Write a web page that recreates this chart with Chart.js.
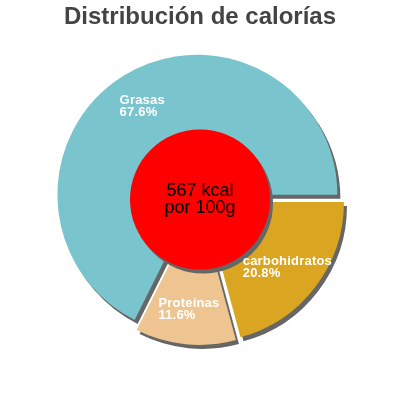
<!DOCTYPE html>
<html lang="es">
<head>
    <meta charset="UTF-8">
    <title>Distribución de calorías</title>
    <style>
        body {
            margin: 0;
            background-color: #fff;
        }
        .chart-box {
            width: 400px;
            height: 400px;
        }
    </style>
    <script src="https://cdn.jsdelivr.net/npm/chart.js"></script>
</head>
<body>
    <div class="chart-box">
        <canvas id="pieChart"></canvas>
    </div>

    <script>
        // Data (clockwise from 3 o'clock)
        const labels = ['carbohidratos', 'Proteínas', 'Grasas'];
        const percentages = [20.8, 11.6, 67.6];
        const sliceColors = ['#DAA520', '#EEC591', '#7AC5CD'];
        const energyLines = ['567 kcal', 'por 100g'];

        const FONT = '"Liberation Sans", Arial, sans-serif';
        const explode = [5, 6, 5]; // how far each slice is pulled out

        function setShadow(ctx) {
            ctx.shadowColor = '#666';
            ctx.shadowBlur = 0;
            ctx.shadowOffsetX = 3;
            ctx.shadowOffsetY = 4;
        }

        // Exploded slices with a hard shadow, red centre disc and labels
        const pieDecor = {
            id: 'pieDecor',
            beforeDatasetDraw(chart, args) {
                const ctx = chart.ctx;
                args.meta.data.forEach((arc, i) => {
                    const mid = (arc.startAngle + arc.endAngle) / 2;
                    ctx.save();
                    setShadow(ctx);
                    ctx.translate(Math.cos(mid) * explode[i], Math.sin(mid) * explode[i]);
                    arc.draw(ctx);
                    ctx.restore();
                });
                return false;
            },
            afterDatasetsDraw(chart) {
                const ctx = chart.ctx;
                const arcs = chart.getDatasetMeta(0).data;
                const cx = arcs[0].x;
                const cy = arcs[0].y;

                // red disc
                ctx.save();
                setShadow(ctx);
                ctx.fillStyle = '#FF0000';
                ctx.beginPath();
                ctx.arc(cx, cy + 0.5, 70, 0, Math.PI * 2);
                ctx.fill();
                ctx.restore();

                // energy text
                ctx.save();
                ctx.fillStyle = '#000';
                ctx.font = '18px ' + FONT;
                ctx.textAlign = 'center';
                ctx.textBaseline = 'alphabetic';
                ctx.fillText(energyLines[0], cx, cy - 3);
                ctx.fillText(energyLines[1], cx, cy + 14);
                ctx.restore();

                // slice labels
                ctx.save();
                ctx.fillStyle = '#fff';
                ctx.font = 'bold 13px ' + FONT;
                ctx.letterSpacing = '0.2px';
                ctx.textAlign = 'left';
                ctx.textBaseline = 'alphabetic';
                arcs.forEach((arc, i) => {
                    const mid = (arc.startAngle + arc.endAngle) / 2;
                    const lx = cx + Math.cos(mid) * 110;
                    const ly = cy + Math.sin(mid) * 110;
                    const pct = percentages[i].toFixed(1) + '%';
                    const w = Math.max(ctx.measureText(labels[i]).width, ctx.measureText(pct).width);
                    ctx.fillText(labels[i], lx - w / 2, ly - 1);
                    ctx.fillText(pct, lx - w / 2, ly + 11);
                });
                ctx.restore();
            }
        };

        const pieCtx = document.getElementById('pieChart').getContext('2d');
        new Chart(pieCtx, {
            type: 'pie',
            data: {
                labels: labels,
                datasets: [{
                    data: percentages,
                    backgroundColor: sliceColors,
                    borderWidth: 0,
                    radius: 140
                }]
            },
            options: {
                responsive: true,
                maintainAspectRatio: false,
                animation: false,
                rotation: 90,
                layout: {
                    padding: { top: 0, bottom: 33.8 }
                },
                plugins: {
                    legend: { display: false },
                    tooltip: { enabled: false },
                    title: {
                        display: true,
                        text: 'Distribución de calorías',
                        color: '#444',
                        font: { family: FONT, size: 24, weight: 'bold' },
                        padding: { top: 3, bottom: 0 }
                    }
                }
            },
            plugins: [pieDecor]
        });
    </script>
</body>
</html>
